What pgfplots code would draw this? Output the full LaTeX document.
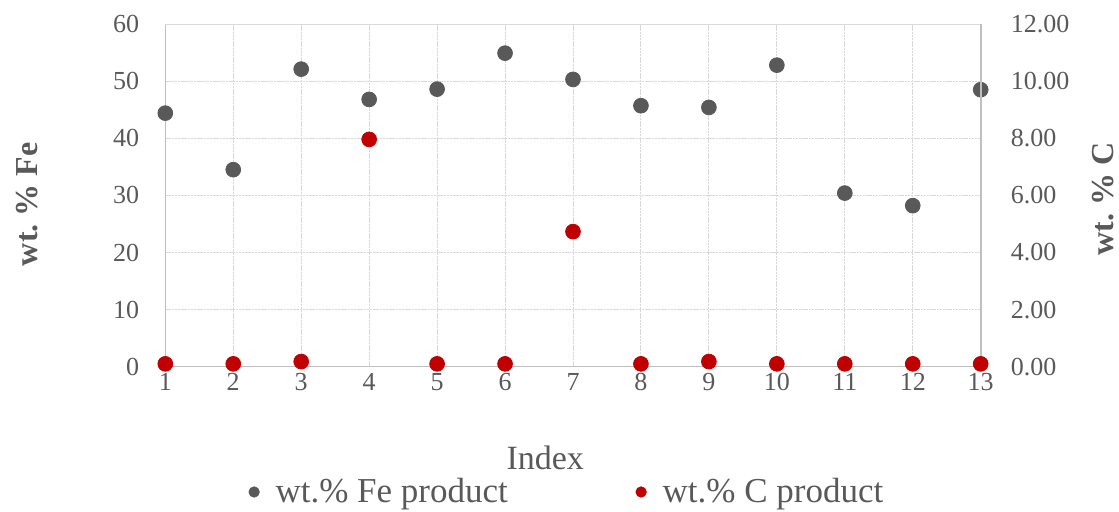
\documentclass[border=0pt]{standalone}
\usepackage{fontspec}
\setmainfont{Liberation Serif}
\usepackage{pgfplots}
\pgfplotsset{compat=1.18}
\definecolor{fegrey}{HTML}{595959}
\definecolor{cred}{HTML}{C00000}
\definecolor{txtgrey}{HTML}{595959}
\definecolor{gridgrey}{HTML}{D9D9D9}
\definecolor{axisgrey}{HTML}{BFBFBF}
\pgfplotstableread{
x fe
1 44.4
2 34.5
3 52.1
4 46.8
5 48.6
6 54.9
7 50.3
8 45.7
9 45.4
10 52.8
11 30.4
12 28.2
13 48.5
}\fedata
\pgfplotstableread{
x c
1 0.10
2 0.10
3 0.18
4 7.96
5 0.10
6 0.10
7 4.73
8 0.10
9 0.18
10 0.10
11 0.10
12 0.10
13 0.10
}\cdata
\begin{document}
\begin{tikzpicture}
\path[use as bounding box] (-82.65pt,-72.15pt) rectangle (476.85pt,183.35pt);
\begin{axis}[
  scale only axis, width=407.7pt, height=171.35pt,
  xmin=1, xmax=13, ymin=0, ymax=60,
  xtick={1,...,13}, ytick={0,10,...,60},
  axis x line*=bottom, axis y line*=left,
  axis line style={color=axisgrey, line width=0.6pt},
  major tick length=0pt,
  grid=major,
  grid style={color=gridgrey, line width=0.5pt, dash pattern=on 1.2pt off 0.4pt},
  /pgf/number format/assume math mode=true,
  tick label style={color=txtgrey, font=\fontsize{13}{15}\selectfont},
  yticklabel style={xshift=-9.5pt},
  xticklabel style={anchor=north, text height=9pt, text depth=0pt, yshift=0.5pt},
  xlabel={Index},
  xlabel style={at={(axis description cs:0.466,-0.2664)}, anchor=center, color=txtgrey, font=\fontsize{17}{19}\selectfont},
  clip=false,
]
\addplot[only marks, mark=*, mark size=3.7pt, color=fegrey, mark options={fill=fegrey, draw=fegrey}] table[x=x, y=fe] {\fedata};
\draw[gridgrey, line width=0.5pt] (axis cs:1,60) -- (axis cs:13,60);
\node[rotate=90, color=txtgrey, font=\bfseries\fontsize{16}{18}\selectfont] at (axis description cs:-0.1696,0.474) {wt.\ \% Fe};
\end{axis}
\begin{axis}[
  scale only axis, width=407.7pt, height=171.35pt,
  xmin=1, xmax=13, ymin=0, ymax=12,
  ytick={0,2,...,12},
  axis x line=none, axis y line*=right,
  axis line style={color=axisgrey, line width=0.8pt},
  major tick length=0pt,
  /pgf/number format/assume math mode=true,
  yticklabel style={color=txtgrey, font=\fontsize{13}{15}\selectfont, xshift=11.5pt,
    /pgf/number format/.cd, fixed, fixed zerofill, precision=2},
  clip=false,
  legend columns=2,
  legend style={at={(axis description cs:0.494,-0.3656)}, anchor=center, draw=none, fill=none,
    font=\fontsize{17.5}{19}\selectfont, text=txtgrey,
    /tikz/every even column/.append style={column sep=62pt}},
  legend cell align=left,
  legend image code/.code={\draw[#1] plot coordinates {(0cm,0cm)}; \path (0.3cm,0cm);},
]
\addplot[only marks, mark=*, mark size=3.7pt, color=cred, mark options={fill=cred, draw=cred}, forget plot] table[x=x, y=c] {\cdata};
\addlegendimage{only marks, mark=*, mark size=2.6pt, color=fegrey}
\addlegendimage{only marks, mark=*, mark size=2.6pt, color=cred}
\legend{wt.\% Fe product, wt.\% C product}
\node[rotate=90, color=txtgrey, font=\bfseries\fontsize{16}{18}\selectfont] at (axis description cs:1.150,0.49) {wt.\ \% C};
\end{axis}
\end{tikzpicture}
\end{document}
